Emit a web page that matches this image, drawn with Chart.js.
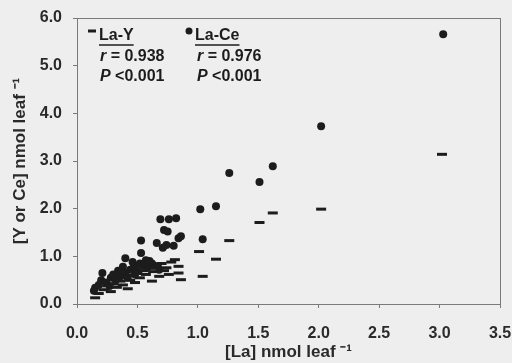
<!DOCTYPE html>
<html>
<head>
<meta charset="utf-8">
<script src="https://cdn.jsdelivr.net/npm/chart.js@4.4.0/dist/chart.umd.min.js"></script>
<style>
  html, body { margin: 0; padding: 0; background: #eeeeee; }
  #wrap { width: 512px; height: 363px; position: relative; }
</style>
</head>
<body>
<div id="wrap"><canvas id="laChart" width="512" height="363"></canvas></div>
<script>
// [La] vs [Ce] (dots)
const laCe_x = [0.14,0.15,0.18,0.20,0.21,0.24,0.27,0.28,0.30,0.32,0.34,0.36,0.38,0.40,0.40,0.42,0.44,0.46,0.47,0.48,
                0.50,0.52,0.53,0.53,0.55,0.57,0.59,0.60,0.62,0.64,0.66,0.68,0.69,0.71,0.72,0.74,0.75,0.76,0.82,0.84,
                0.86,0.80,1.02,1.04,1.15,1.26,1.51,1.62,2.02,3.03];
const laCe_y = [0.28,0.34,0.40,0.50,0.65,0.45,0.38,0.55,0.62,0.50,0.70,0.58,0.78,0.96,0.65,0.55,0.72,0.88,0.78,0.62,
                0.70,0.85,1.07,1.33,0.80,0.92,0.78,0.90,0.85,0.80,1.28,0.72,1.78,1.18,1.55,1.24,1.52,1.78,1.80,1.38,
                1.42,1.22,1.99,1.36,2.05,2.75,2.56,2.89,3.73,5.66];

// [La] vs [Y] (dashes)
const laY_x = [0.15,0.18,0.22,0.25,0.28,0.30,0.33,0.36,0.38,0.40,0.42,0.44,0.46,0.48,0.50,0.52,0.55,0.57,0.60,0.62,
               0.63,0.66,0.68,0.70,0.72,0.74,0.76,0.78,0.81,0.84,0.84,0.86,1.01,1.04,1.15,1.26,1.51,1.62,2.02,3.02];
const laY_y = [0.13,0.22,0.30,0.38,0.26,0.42,0.35,0.48,0.40,0.55,0.32,0.50,0.60,0.45,0.64,0.55,0.70,0.62,0.75,0.48,
               0.68,0.80,0.58,0.85,0.70,0.76,0.62,0.88,0.93,0.79,0.65,0.51,1.10,0.58,0.94,1.33,1.71,1.91,1.99,3.14];

const xTicks = [0, 0.5, 1.0, 1.5, 2.0, 2.5, 3.0, 3.5];
const yTicks = [0, 1, 2, 3, 4, 5, 6];

const INK = '#1c1c1c';
const AXIS = '#7a7a7a';

function pairs(xs, ys) {
  return xs.map((x, i) => ({ x: x, y: ys[i] }));
}

// box round the plot + the little legend block in the top left corner
const boxAndLegend = {
  id: 'boxAndLegend',
  afterDraw(chart) {
    const ctx = chart.ctx;
    const a = chart.chartArea;
    ctx.save();
    ctx.strokeStyle = AXIS;
    ctx.lineWidth = 1;
    ctx.strokeRect(a.left + 0.5, a.top + 0.5, a.right - a.left, a.bottom - a.top);

    ctx.fillStyle = INK;
    ctx.strokeStyle = INK;
    ctx.textBaseline = 'middle';
    ctx.textAlign = 'left';

    // La-Y
    ctx.lineWidth = 3;
    ctx.beginPath();
    ctx.moveTo(a.left + 11, a.top + 13);
    ctx.lineTo(a.left + 19, a.top + 13);
    ctx.stroke();
    ctx.font = 'bold 16px "Liberation Sans", Arial, sans-serif';
    ctx.fillText('La-Y', a.left + 22, a.top + 18);
    let w = ctx.measureText('La-Y').width;
    ctx.lineWidth = 1.5;
    ctx.beginPath();
    ctx.moveTo(a.left + 22, a.top + 27);
    ctx.lineTo(a.left + 22 + w, a.top + 27);
    ctx.stroke();

    // La-Ce
    ctx.beginPath();
    ctx.arc(a.left + 112, a.top + 13, 3.5, 0, Math.PI * 2);
    ctx.fill();
    ctx.fillText('La-Ce', a.left + 118, a.top + 18);
    w = ctx.measureText('La-Ce').width;
    ctx.beginPath();
    ctx.moveTo(a.left + 118, a.top + 27);
    ctx.lineTo(a.left + 118 + w, a.top + 27);
    ctx.stroke();

    // r and P lines
    const stats = [[a.left + 23, '0.938'], [a.left + 120, '0.976']];
    stats.forEach(([x, r]) => {
      ctx.font = 'italic bold 16px "Liberation Sans", Arial, sans-serif';
      ctx.fillText('r', x, a.top + 39);
      let rw = ctx.measureText('r ').width;
      ctx.font = 'bold 16px "Liberation Sans", Arial, sans-serif';
      ctx.fillText('= ' + r, x + rw, a.top + 39);
      ctx.font = 'italic bold 16px "Liberation Sans", Arial, sans-serif';
      ctx.fillText('P', x, a.top + 59);
      let pw = ctx.measureText('P ').width;
      ctx.font = 'bold 16px "Liberation Sans", Arial, sans-serif';
      ctx.fillText('<0.001', x + pw, a.top + 59);
    });
    ctx.restore();
  }
};

const tickFont = { family: '"Liberation Sans", Arial, sans-serif', size: 16, weight: 'bold' };
const titleFont = { family: '"Liberation Sans", Arial, sans-serif', size: 17, weight: 'bold' };

new Chart(document.getElementById('laChart').getContext('2d'), {
  type: 'scatter',
  data: {
    datasets: [
      {
        label: 'La-Y',
        data: pairs(laY_x, laY_y),
        pointStyle: 'line',
        pointRadius: 5,
        borderWidth: 3,
        borderColor: INK,
        backgroundColor: INK
      },
      {
        label: 'La-Ce',
        data: pairs(laCe_x, laCe_y),
        pointStyle: 'circle',
        pointRadius: 4,
        borderWidth: 0,
        borderColor: INK,
        backgroundColor: INK
      }
    ]
  },
  options: {
    responsive: false,
    animation: false,
    layout: { padding: { top: 18, right: 12, left: 0, bottom: 0 } },
    plugins: {
      legend: { display: false },
      tooltip: { enabled: false }
    },
    scales: {
      x: {
        type: 'linear',
        min: 0, max: 3.5,
        afterBuildTicks: s => { s.ticks = xTicks.map(v => ({ value: v })); },
        afterFit: s => { s.height = 59; s.paddingLeft = 0; s.paddingRight = 0; },
        ticks: {
          color: '#2a2a2a',
          font: tickFont,
          padding: 16,
          callback: v => Number(v).toFixed(1)
        },
        grid: { display: true, drawOnChartArea: false, drawTicks: true, tickLength: 4, color: AXIS },
        border: { display: true, color: AXIS },
        title: {
          display: true,
          text: '[La] nmol leaf \u207B\u00B9',
          color: '#2a2a2a',
          font: titleFont,
          padding: { top: 0, bottom: 0 }
        }
      },
      y: {
        type: 'linear',
        min: 0, max: 6,
        afterBuildTicks: s => { s.ticks = yTicks.map(v => ({ value: v })); },
        afterFit: s => { s.width = 77; s.paddingTop = 0; s.paddingBottom = 0; },
        ticks: {
          color: '#2a2a2a',
          font: tickFont,
          padding: 11,
          callback: v => Number(v).toFixed(1)
        },
        grid: { display: true, drawOnChartArea: false, drawTicks: true, tickLength: 4, color: AXIS },
        border: { display: true, color: AXIS },
        title: {
          display: true,
          text: '[Y or Ce] nmol leaf \u207B\u00B9',
          color: '#2a2a2a',
          font: titleFont,
          padding: { top: 10, bottom: 0 }
        }
      }
    }
  },
  plugins: [boxAndLegend]
});
</script>
</body>
</html>
